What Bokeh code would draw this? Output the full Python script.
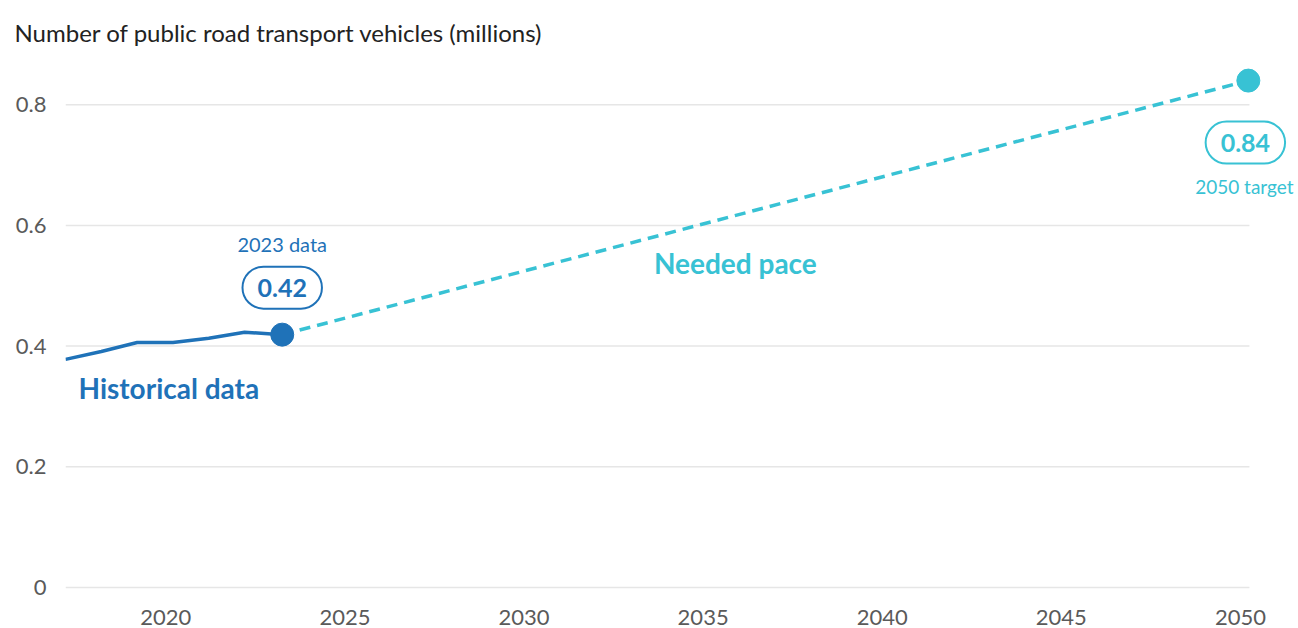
from bokeh.plotting import figure
from bokeh.models import Label, FixedTicker, Range1d
from bokeh.embed import file_html
from bokeh.resources import INLINE

# ---- data ----
hist_years = [2017.2, 2018.2, 2019.2, 2020.2, 2021.2, 2022.2, 2023.25]
hist_values = [0.378, 0.391, 0.406, 0.406, 0.413, 0.423, 0.419]
latest_year = 2023.25
latest_value = 0.42
target_year = 2050.22
target_value = 0.84
pace_years = [latest_year, target_year]
pace_values = [hist_values[-1], target_value]

y_ticks = [0, 0.2, 0.4, 0.6, 0.8]
y_tick_labels = ["0", "0.2", "0.4", "0.6", "0.8"]
x_ticks = [2020, 2025, 2030, 2035, 2040, 2045, 2050]
x_tick_labels = ["2020", "2025", "2030", "2035", "2040", "2045", "2050"]

title_text = "Number of public road transport vehicles (millions)"

BLUE = "#1F72B8"
CYAN = "#38C2D4"
FONT = "Lato"

X_START, GRID_END, X_END = 2017.2, 2050.25, 2051.62

p = figure(width=1298, height=628, output_backend="svg", toolbar_location=None,
           x_range=Range1d(X_START, X_END), y_range=Range1d(-0.01, 0.87),
           min_border_left=65, min_border_right=0, min_border_top=62, min_border_bottom=35)
p.outline_line_color = None
p.background_fill_color = "white"
p.border_fill_color = "white"

p.title.text = title_text
p.title.align = "left"
p.title.offset = -51
p.title.standoff = 31
p.title.text_font = FONT
p.title.text_font_size = "24px"
p.title.text_font_style = "normal"
p.title.text_color = "#222222"

p.xgrid.grid_line_color = None
p.ygrid.grid_line_color = None
# horizontal grid lines (stop at the end of the time axis)
p.segment(x0=[X_START] * len(y_ticks), x1=[GRID_END] * len(y_ticks), y0=y_ticks, y1=y_ticks,
          line_color="#E6E6E6", line_width=1.5, level="underlay")

p.yaxis.ticker = FixedTicker(ticks=y_ticks)
p.yaxis.major_label_overrides = {t: l for t, l in zip(y_ticks, y_tick_labels)}
p.xaxis.ticker = FixedTicker(ticks=x_ticks)
p.xaxis.major_label_overrides = {t: l for t, l in zip(x_ticks, x_tick_labels)}
for ax in (p.xaxis[0], p.yaxis[0]):
    ax.axis_line_color = None
    ax.major_tick_line_color = None
    ax.minor_tick_line_color = None
    ax.major_tick_out = 0
    ax.major_tick_in = 0
    ax.minor_tick_out = 0
    ax.minor_tick_in = 0
    ax.major_label_text_font = FONT
    ax.major_label_text_font_size = "22px"
    ax.major_label_text_color = "#5A5A5A"
p.yaxis.major_label_standoff = 19
p.xaxis.major_label_standoff = 16

# lines
p.line(pace_years, pace_values, line_color=CYAN, line_width=3.5, line_dash="11 7")
p.line(hist_years, hist_values, line_color=BLUE, line_width=3.5)
p.scatter([latest_year], [hist_values[-1]], size=23, color=BLUE)
p.scatter([target_year], [target_value], size=23, color=CYAN)

# annotations
p.add_layout(Label(x=hist_years[0], y=0.33, x_offset=13, text="Historical data",
                   text_font=FONT, text_font_style="bold", text_font_size="28px",
                   text_color=BLUE, text_baseline="middle", text_align="left"))
p.add_layout(Label(x=2035.9, y=0.537, text="Needed pace",
                   text_font=FONT, text_font_style="bold", text_font_size="28px",
                   text_color=CYAN, text_baseline="middle", text_align="center"))
p.add_layout(Label(x=latest_year, y=hist_values[-1], y_offset=91, text="2023 data",
                   text_font=FONT, text_font_size="20px", text_color=BLUE,
                   text_baseline="middle", text_align="center"))
p.add_layout(Label(x=latest_year, y=hist_values[-1], y_offset=47, text=f"{latest_value:.2f}",
                   text_font=FONT, text_font_style="bold", text_font_size="25px",
                   text_color=BLUE, text_baseline="middle", text_align="center",
                   border_line_color=BLUE, border_line_width=2, background_fill_color="white",
                   padding=(15, 12), border_radius=21))
p.add_layout(Label(x=target_year, y=target_value, x_offset=-3, y_offset=-62, text=f"{target_value:.2f}",
                   text_font=FONT, text_font_style="bold", text_font_size="25px",
                   text_color=CYAN, text_baseline="middle", text_align="center",
                   border_line_color=CYAN, border_line_width=2, background_fill_color="white",
                   padding=(15, 12), border_radius=21))
p.add_layout(Label(x=target_year, y=target_value, x_offset=-4, y_offset=-106, text="2050 target",
                   text_font=FONT, text_font_size="19px", text_color=CYAN,
                   text_baseline="middle", text_align="center"))

open("out.html", "w").write(file_html(p, INLINE))
